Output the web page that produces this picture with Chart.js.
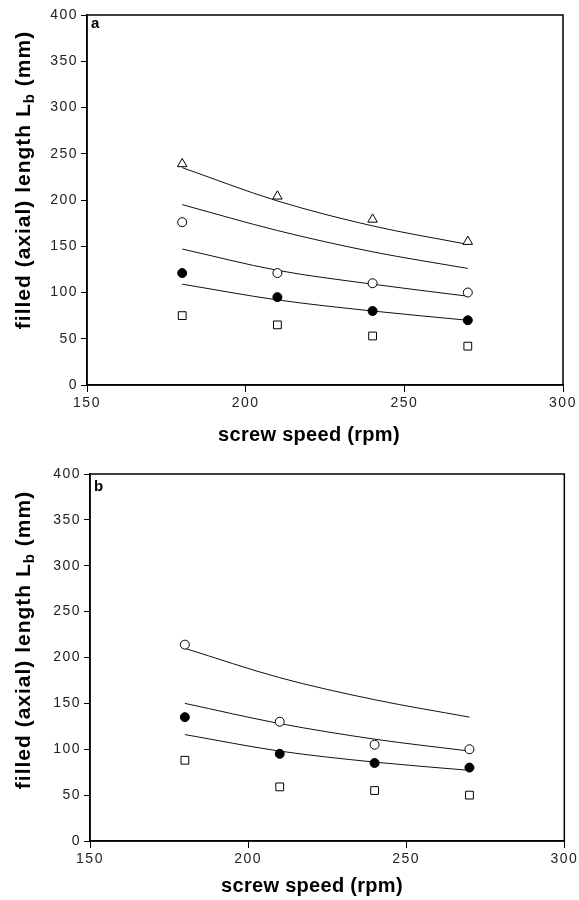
<!DOCTYPE html>
<html><head><meta charset="utf-8">
<script src="https://cdn.jsdelivr.net/npm/chart.js@4"></script>
<style>
body{margin:0;background:#fff;width:579px;height:900px;overflow:hidden;position:relative}
canvas{position:absolute;left:0}
</style>
</head><body>
<canvas id="ca" width="579" height="445" style="top:0"></canvas>
<canvas id="cb" width="579" height="455" style="top:445px"></canvas>
<script>
// ---- data ----
const speeds = [180, 210, 240, 270];
const xTicks = [150, 200, 250, 300];
const yTicks = [0, 50, 100, 150, 200, 250, 300, 350, 400];
const xTitle = 'screw speed (rpm)';
const yTitleMain = 'filled (axial) length L';
const yTitleSub = 'b';
const yTitleEnd = ' (mm)';

// panel a
const aTriangle = [239, 204, 179, 155];
const aOpenCircle = [176, 121, 110, 100];
const aFilledCircle = [121, 95, 80, 70];
const aSquare = [75, 65, 53, 42];
const aFit1 = [235, 199, 172, 152];
const aFit2 = [195, 167, 144, 126];
const aFit3 = [147, 124, 109, 96];
const aFit4 = [109, 92, 80, 70];

// panel b
const bOpenCircle = [214, 130, 105, 100];
const bFilledCircle = [135, 95, 85, 80];
const bSquare = [88, 59, 55, 50];
const bFit1 = [210, 178, 154, 135];
const bFit2 = [150, 128, 111, 98];
const bFit3 = [116, 98, 86, 77];

const FONT = '"Liberation Sans", Arial, sans-serif';
const pts = arr => arr.map((v, i) => ({x: speeds[i], y: v}));

function fit(arr) {
  return {type: 'line', data: pts(arr), borderColor: '#111', borderWidth: 1,
    pointRadius: 0, fill: false, cubicInterpolationMode: 'monotone', order: 2};
}
function marker(arr, style, filled, r) {
  return {type: 'scatter', data: pts(arr), showLine: false, pointStyle: style,
    pointRadius: r, pointHoverRadius: r, borderColor: '#000', borderWidth: 1,
    pointBackgroundColor: filled ? '#000' : '#fff', pointBorderColor: '#000',
    pointBorderWidth: 1, order: 1};
}

const framePlugin = {
  id: 'frame',
  beforeDraw(chart) {
    chart.ctx.letterSpacing = '1.5px';
  },
  afterDraw(chart, args, o) {
    const ctx = chart.ctx, a = chart.chartArea;
    ctx.save();
    ctx.strokeStyle = '#000';
    ctx.lineWidth = 1.5;
    ctx.strokeRect(a.left, a.top, a.right - a.left, a.bottom - a.top);
    ctx.fillStyle = '#000';
    ctx.letterSpacing = '0px';
    ctx.font = 'bold 15px ' + FONT;
    ctx.textAlign = 'left';
    ctx.textBaseline = 'alphabetic';
    ctx.fillText(o.panel, a.left + 4, a.top + o.panelDy);
    // x title
    ctx.font = 'bold 20px ' + FONT;
    ctx.letterSpacing = '0.3px';
    ctx.textAlign = 'center';
    ctx.textBaseline = 'middle';
    ctx.fillText(xTitle, o.xtX, o.xtY);
    // y title with subscript
    ctx.translate(o.ytX, o.ytY);
    ctx.rotate(-Math.PI / 2);
    ctx.textAlign = 'left';
    ctx.textBaseline = 'middle';
    ctx.letterSpacing = '1px';
    const big = 'bold 21px ' + FONT, small = 'bold 15px ' + FONT;
    ctx.font = big;
    const w1 = ctx.measureText(yTitleMain).width;
    const w3 = ctx.measureText(yTitleEnd).width;
    ctx.font = small;
    const w2 = ctx.measureText(yTitleSub).width;
    let x = -(w1 + w2 + w3) / 2;
    ctx.font = big;
    ctx.fillText(yTitleMain, x, 0); x += w1;
    ctx.font = small;
    ctx.fillText(yTitleSub, x, 6); x += w2;
    ctx.font = big;
    ctx.fillText(yTitleEnd, x, 0);
    ctx.restore();
  }
};

function makeChart(id, datasets, cfg) {
  return new Chart(document.getElementById(id), {
    data: {datasets},
    plugins: [framePlugin],
    options: {
      responsive: false, animation: false, devicePixelRatio: 1,
      layout: {autoPadding: false, padding: {left: 0, right: cfg.padRight, top: cfg.padTop, bottom: 0}},
      plugins: {legend: {display: false}, tooltip: {enabled: false}, frame: cfg.frame},
      scales: {
        x: {type: 'linear', min: 150, max: 300,
          afterBuildTicks: s => { s.ticks = xTicks.map(v => ({value: v})); },
          afterFit: s => { s.height = cfg.xH; },
          grid: {display: true, drawOnChartArea: false, drawTicks: true, tickLength: 7, color: '#000', lineWidth: 1},
          border: {display: true, color: '#000', width: 1.5},
          ticks: {color: '#222', font: {family: FONT, size: 14}, padding: 3, maxRotation: 0}
        },
        y: {type: 'linear', min: 0, max: 400,
          afterBuildTicks: s => { s.ticks = yTicks.map(v => ({value: v})); },
          afterFit: s => { s.width = cfg.yW; },
          grid: {display: true, drawOnChartArea: false, drawTicks: true, tickLength: 6, color: '#000', lineWidth: 1},
          border: {display: true, color: '#000', width: 1.5},
          ticks: {color: '#222', font: {family: FONT, size: 14}, padding: 3}
        }
      }
    }
  });
}

makeChart('ca', [
  fit(aFit1), fit(aFit2), fit(aFit3), fit(aFit4),
  marker(aTriangle, 'triangle', false, 5.5),
  marker(aOpenCircle, 'circle', false, 4.5),
  marker(aFilledCircle, 'circle', true, 4.5),
  marker(aSquare, 'rect', false, 5.5)
], {padRight: 16, padTop: 15, xH: 60, yW: 87,
    frame: {panel: 'a', panelDy: 13, xtX: 309, xtY: 435, ytX: 24, ytY: 180}});

makeChart('cb', [
  fit(bFit1), fit(bFit2), fit(bFit3),
  marker(bOpenCircle, 'circle', false, 4.5),
  marker(bFilledCircle, 'circle', true, 4.5),
  marker(bSquare, 'rect', false, 5.5)
], {padRight: 14, padTop: 29, xH: 59, yW: 90,
    frame: {panel: 'b', panelDy: 17, xtX: 312, xtY: 441, ytX: 24, ytY: 195}});
</script>
</body></html>
